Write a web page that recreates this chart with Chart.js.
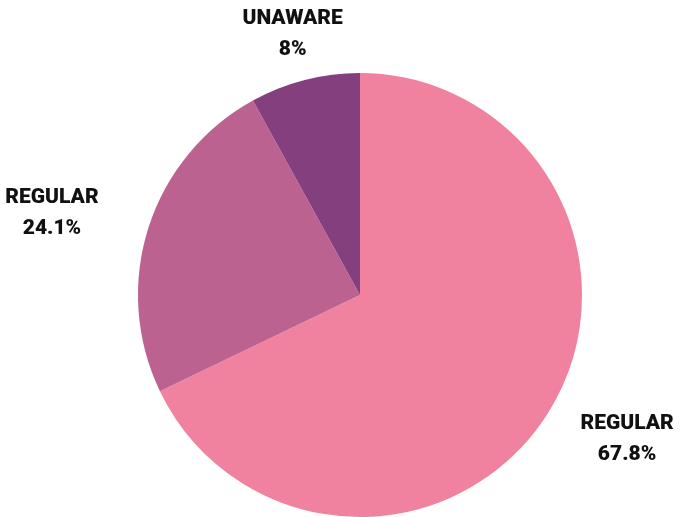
<!DOCTYPE html>
<html>
<head>
<meta charset="utf-8">
<script src="https://cdn.jsdelivr.net/npm/chart.js@4"></script>
<style>
  html, body { margin: 0; padding: 0; background: #fff; }
  #wrap { width: 692px; height: 517px; }
</style>
</head>
<body>
<div id="wrap"><canvas id="pie"></canvas></div>
<script>
// data
const categories = ['REGULAR', 'REGULAR', 'UNAWARE'];
const percents = [67.8, 24.1, 8];
const sliceColors = ['#F0829F', '#BC6291', '#833F7E'];

// labels outside each slice, two lines: name + percent
const outsideLabels = {
  id: 'outsideLabels',
  afterDatasetsDraw(chart) {
    const ctx = chart.ctx;
    const meta = chart.getDatasetMeta(0);
    ctx.save();
    ctx.font = '900 21px Roboto';
    ctx.fillStyle = '#111';
    ctx.textAlign = 'center';
    ctx.textBaseline = 'middle';
    meta.data.forEach((arc, i) => {
      const p = arc.getProps(['x', 'y', 'startAngle', 'endAngle', 'outerRadius'], true);
      const a = (p.startAngle + p.endAngle) / 2;
      const c = Math.cos(a), s = Math.sin(a);
      // push wide text further out sideways than up/down
      const cx = p.x + c * (p.outerRadius + 30) + Math.sign(c) * c * c * 75;
      const cy = p.y + s * (p.outerRadius + 48);
      ctx.fillText(categories[i], cx, cy - 15);
      ctx.fillText(percents[i] + '%', cx, cy + 16);
    });
    ctx.restore();
  }
};

new Chart(document.getElementById('pie'), {
  type: 'pie',
  data: {
    labels: categories,
    datasets: [{
      data: percents,
      backgroundColor: sliceColors,
      borderWidth: 0,
    }],
  },
  options: {
    responsive: true,
    maintainAspectRatio: false,
    animation: false,
    layout: { padding: { top: 73, bottom: 0, left: 138, right: 110 } },
    plugins: {
      legend: { display: false },
      tooltip: { enabled: false },
    },
  },
  plugins: [outsideLabels],
});
</script>
</body>
</html>
